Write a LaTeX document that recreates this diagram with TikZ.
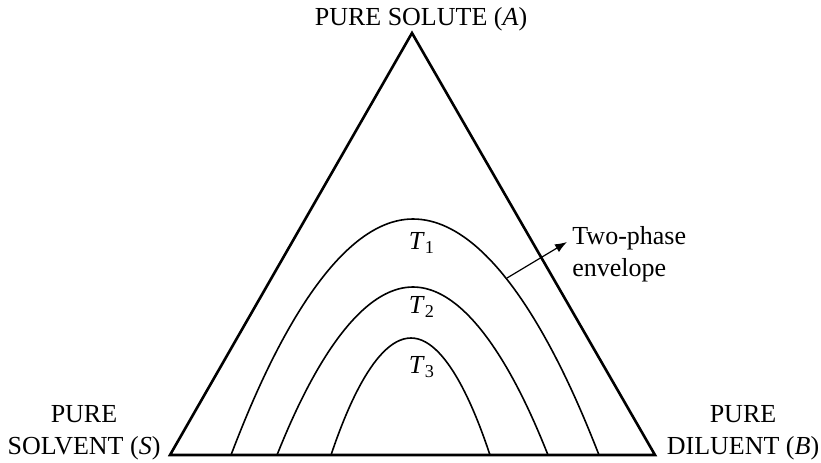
\documentclass[tikz,border=0pt]{standalone}
\usepackage{fontspec}
\setmainfont{Liberation Serif}
\usetikzlibrary{arrows.meta}

\begin{document}
\begin{tikzpicture}[x=0.5pt,y=-0.5pt,
  every node/.style={font=\fontsize{13}{16}\selectfont},
  side/.style={line width=1.3pt,line join=miter},
  envel/.style={line width=0.8pt},
  tlabel/.style={inner sep=0pt}]
  \useasboundingbox (0,0) rectangle (821,462);
  % corners of the triangle
  \coordinate (top) at (412,33);
  \coordinate (sv) at (170,455);
  \coordinate (dl) at (655,455);
  \draw[side] (top) -- (dl) -- (sv) -- cycle;
  % isotherms
  \draw[envel] (231,455) parabola bend (413,219) (599,455);
  \draw[envel] (277,455) parabola bend (413,287) (548,455);
  \draw[envel] (331,455) parabola bend (411,338) (490,455);
  \node[tlabel] (t1) at (422,243) {\textit{T}\textsubscript{1}};
  \node[tlabel] (t2) at (422,307) {\textit{T}\textsubscript{2}};
  \node[tlabel] (t3) at (422,367) {\textit{T}\textsubscript{3}};
  % corner labels
  \node[anchor=base] (solute) at (421,25) {PURE SOLUTE (\textit{A})};
  \node[align=center] (solvent) at (84,433) {PURE\\SOLVENT (\textit{S})};
  \node[align=center] (diluent) at (743,433) {PURE\\DILUENT (\textit{B})};
  % envelope label
  \node[anchor=west,align=left,inner sep=0pt] (envlbl) at (572,254) {Two-phase\\envelope};
  \coordinate (onT1) at (507,278);
  \coordinate (tip) at (567,242);
  \draw[line width=0.6pt,-{Latex[length=6pt,width=4.5pt]}] (onT1) -- (tip);
\end{tikzpicture}
\end{document}
